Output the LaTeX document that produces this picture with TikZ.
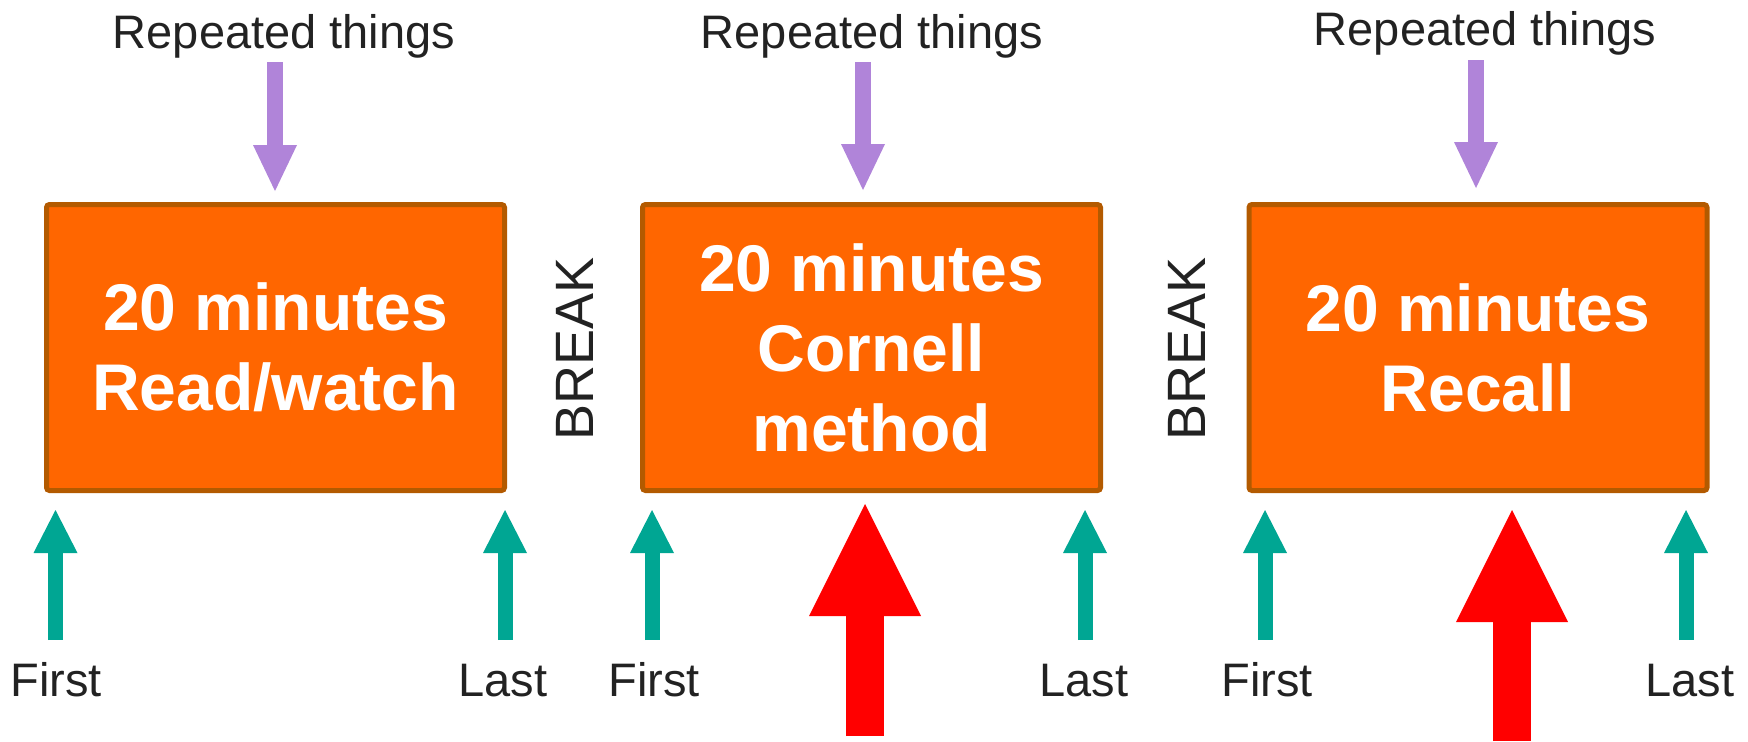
\documentclass[tikz,border=0pt]{standalone}
\usepackage{fontspec}
\setmainfont{Liberation Sans}
\usetikzlibrary{arrows.meta}

\definecolor{boxfill}{HTML}{FF6600}
\definecolor{boxline}{HTML}{B35A00}
\definecolor{lilac}{HTML}{B084D9}
\definecolor{teal}{HTML}{00A693}
\definecolor{alarm}{HTML}{FF0000}
\definecolor{ink}{HTML}{222222}

\tikzset{
  block/.style={draw=boxline, line width=2.5pt, fill=boxfill, rounded corners=1.5pt,
    minimum width=229pt, minimum height=143pt, inner sep=0pt,
    text=white, align=center, font=\bfseries\fontsize{33pt}{40pt}\selectfont},
  label/.style={text=ink, font=\fontsize{23.5pt}{28pt}\selectfont, anchor=base, inner sep=0pt},
  pause/.style={text=ink, font=\fontsize{27pt}{32pt}\selectfont, rotate=90, inner sep=0pt},
  repeatarrow/.style={draw=lilac, line width=8pt,
    -{Triangle[width=22pt,length=23pt,line width=0pt]}},
  edgearrow/.style={draw=teal, line width=7.5pt,
    -{Triangle[width=22pt,length=21.5pt,line width=0pt]}},
  keyarrow/.style={draw=alarm, line width=19pt,
    -{Triangle[width=56pt,length=56pt,line width=0pt]}},
}

\begin{document}
\begin{tikzpicture}[x=0.5pt, y=-0.5pt]
  \useasboundingbox (0,0) rectangle (1748,741);

  % three study blocks
  \node[block] (b1) at (275.5,347.5) {20 minutes\\Read/watch};
  \node[block] (b2) at (871.5,347.5) {20 minutes\\Cornell\\method};
  \node[block] (b3) at (1478,347.5) {20 minutes\\Recall};

  % breaks between blocks
  \node[pause] (k1) at (575,349) {BREAK};
  \node[pause] (k2) at (1187,349) {BREAK};

  % repeated material enters from above
  \node[label] (r1) at (284,48) {Repeated things};
  \node[label] (r2) at (872,48) {Repeated things};
  \node[label] (r3) at (1485,45) {Repeated things};
  \coordinate (r1s) at (275,62);  \coordinate (r1e) at (275,191);
  \coordinate (r2s) at (863,62);  \coordinate (r2e) at (863,190);
  \coordinate (r3s) at (1476,60); \coordinate (r3e) at (1476,188);
  \draw[repeatarrow] (r1s) -- (r1e);
  \draw[repeatarrow] (r2s) -- (r2e);
  \draw[repeatarrow] (r3s) -- (r3e);

  % first and last items of each block
  \node[label] (f1) at (56,696) {First};
  \node[label] (l1) at (503,696) {Last};
  \node[label] (f2) at (654,696) {First};
  \node[label] (l2) at (1084,696) {Last};
  \node[label] (f3) at (1267,696) {First};
  \node[label] (l3) at (1690,696) {Last};
  \coordinate (f1s) at (55.5,640);  \coordinate (f1e) at (55.5,510);
  \coordinate (l1s) at (505,640);   \coordinate (l1e) at (505,510);
  \coordinate (f2s) at (652,640);   \coordinate (f2e) at (652,510);
  \coordinate (l2s) at (1085,640);  \coordinate (l2e) at (1085,510);
  \coordinate (f3s) at (1265,640);  \coordinate (f3e) at (1265,510);
  \coordinate (l3s) at (1686,640);  \coordinate (l3e) at (1686,510);
  \draw[edgearrow] (f1s) -- (f1e);
  \draw[edgearrow] (l1s) -- (l1e);
  \draw[edgearrow] (f2s) -- (f2e);
  \draw[edgearrow] (l2s) -- (l2e);
  \draw[edgearrow] (f3s) -- (f3e);
  \draw[edgearrow] (l3s) -- (l3e);

  % emphasis on the active steps
  \coordinate (m2s) at (865,736);  \coordinate (m2e) at (865,504);
  \coordinate (m3s) at (1512,741); \coordinate (m3e) at (1512,510);
  \draw[keyarrow] (m2s) -- (m2e);
  \draw[keyarrow] (m3s) -- (m3e);
\end{tikzpicture}
\end{document}
